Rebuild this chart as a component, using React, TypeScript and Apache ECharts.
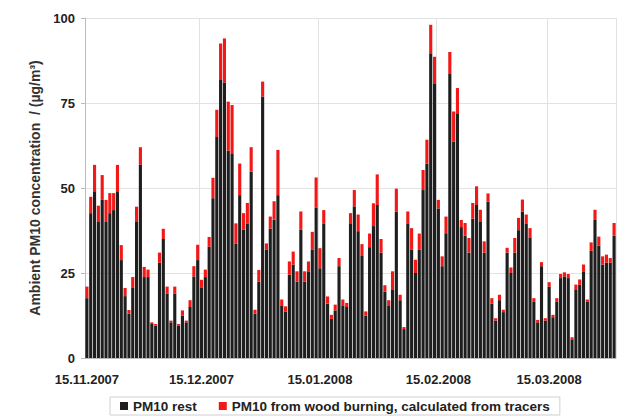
import React, { useEffect, useRef } from "react";
import * as echarts from "echarts";

const startDate = [2007, 11, 15]; // year, month, day of the first bar
const tickLabels = ["15.11.2007", "15.12.2007", "15.01.2008", "15.02.2008", "15.03.2008"];

const pm10Rest = [
  17.6, 42.6, 48.8, 40.0, 46.5, 40.0, 42.6, 43.5, 48.8, 28.8,
  18.2, 13.0, 20.6, 40.0, 56.8, 23.8, 23.8, 10.0, 9.5, 28.0,
  35.0, 19.0, 10.5, 19.0, 9.5, 12.5, 10.5, 15.0, 24.0, 28.8,
  20.6, 23.8, 32.7, 47.0, 65.0, 82.0, 81.0, 61.0, 60.0, 33.7,
  47.9, 37.7, 39.6, 54.8, 13.0, 22.5, 76.9, 31.8, 38.0, 40.7,
  47.9, 15.5, 13.7, 24.5, 27.5, 22.5, 37.7, 22.5, 25.5, 31.8,
  44.3, 26.4, 39.6, 16.0, 11.5, 14.0, 27.0, 15.5, 15.0, 39.6,
  44.6, 37.3, 30.0, 12.5, 32.6, 38.8, 45.0, 31.0, 19.5, 15.5,
  20.0, 43.0, 17.0, 8.5, 39.6, 31.8, 25.0, 31.8, 49.4, 57.2,
  89.6, 80.8, 44.0, 27.0, 36.7, 83.5, 63.7, 72.0, 38.5, 36.0,
  31.0, 41.0, 45.0, 40.0, 31.0, 46.0, 16.0, 11.0, 17.0, 13.5,
  31.0, 25.0, 31.0, 37.6, 43.0, 39.6, 35.5, 16.5, 10.5, 27.0,
  11.0, 21.0, 12.0, 16.5, 23.5, 24.0, 23.5, 5.5, 20.0, 21.5,
  25.5, 16.5, 31.5, 40.6, 33.0, 27.5, 28.0, 28.0, 36.0,
];

const pm10Wood = [
  3.4, 4.8, 8.0, 4.8, 7.3, 6.5, 5.9, 5.0, 8.0, 4.4,
  2.4, 1.1, 3.2, 4.5, 5.2, 3.0, 2.2, 0.5, 0.5, 3.0,
  3.0, 2.0, 0.5, 2.0, 0.5, 1.5, 0.5, 2.0, 3.0, 4.5,
  2.4, 2.2, 2.9, 6.0, 8.0, 10.5, 13.0, 14.4, 14.4, 5.9,
  9.3, 4.9, 6.0, 7.2, 1.2, 3.4, 4.4, 1.9, 3.6, 5.4,
  13.3, 1.7, 1.5, 3.9, 3.8, 3.0, 5.4, 3.0, 2.9, 5.3,
  8.8, 5.9, 3.9, 2.1, 1.2, 1.7, 2.4, 1.7, 1.2, 3.0,
  4.8, 4.9, 3.5, 1.2, 4.0, 6.7, 9.0, 4.0, 1.9, 1.5,
  5.5, 6.8, 1.6, 0.6, 3.5, 6.4, 3.9, 4.8, 5.9, 7.0,
  8.4, 7.8, 2.5, 2.9, 4.9, 6.5, 8.8, 7.4, 2.1, 3.7,
  4.3, 4.6, 5.5, 3.6, 3.3, 2.4, 1.6, 0.7, 1.6, 0.7,
  1.4, 1.6, 4.3, 3.6, 3.6, 2.6, 2.7, 1.1, 0.7, 1.2,
  0.7, 1.3, 0.7, 1.1, 1.2, 1.2, 1.2, 0.6, 1.6, 1.6,
  2.0, 0.7, 2.5, 3.0, 2.7, 2.4, 2.4, 1.4, 3.7,
];

const seriesNames = ["PM10 rest", "PM10 from wood burning, calculated from tracers"];
const seriesColors = ["#1e1e1e", "#f21818"];
const yTicks = { min: 0, max: 100, interval: 25 };
const yName = "Ambient PM10 concentration  / (µg/m³)";

function pad(n: number) {
  return n < 10 ? "0" + n : String(n);
}

function buildDates(count: number): string[] {
  const out: string[] = [];
  const d = new Date(startDate[0], startDate[1] - 1, startDate[2], 12);
  for (let i = 0; i < count; i++) {
    out.push(pad(d.getDate()) + "." + pad(d.getMonth() + 1) + "." + d.getFullYear());
    d.setDate(d.getDate() + 1);
  }
  return out;
}

const FONT = "'Liberation Sans', Arial, sans-serif";

export default function App() {
  const ref = useRef<HTMLDivElement>(null);

  useEffect(() => {
    document.body.style.margin = "0";
    if (!ref.current) return;
    const chart = echarts.init(ref.current, undefined, { renderer: "svg" });
    const dates = buildDates(pm10Rest.length);
    const showTick = (_i: number, v: string) => tickLabels.indexOf(v) >= 0;

    chart.setOption({
      animation: false,
      backgroundColor: "#ffffff",
      textStyle: { fontFamily: FONT },
      grid: { left: 85, right: 2, top: 18, bottom: 59, containLabel: false },
      legend: {
        data: seriesNames,
        left: 110,
        top: 397,
        icon: "rect",
        itemWidth: 8,
        itemHeight: 8,
        itemGap: 22,
        padding: [2, 10, 2, 10],
        borderColor: "#cfcfcf",
        borderWidth: 1,
        textStyle: { fontFamily: FONT, fontSize: 13.5, fontWeight: "bold", color: "#222" },
      },
      xAxis: {
        type: "category",
        data: dates,
        axisLine: { show: true, lineStyle: { color: "#bbbbbb" } },
        axisTick: { show: false },
        axisLabel: {
          interval: showTick,
          fontFamily: FONT,
          fontSize: 13,
          fontWeight: "bold",
          color: "#222",
          margin: 15,
        },
        splitLine: { show: true, interval: showTick, lineStyle: { color: "#e2e2e2", width: 1 } },
      },
      yAxis: {
        type: "value",
        min: yTicks.min,
        max: yTicks.max,
        interval: yTicks.interval,
        name: yName,
        nameLocation: "middle",
        nameGap: 41,
        nameTextStyle: { fontFamily: FONT, fontSize: 14, fontWeight: "bold", color: "#333" },
        axisLine: { show: true, lineStyle: { color: "#bbbbbb" } },
        axisTick: { show: true, length: 4, lineStyle: { color: "#bbbbbb" } },
        axisLabel: { fontFamily: FONT, fontSize: 13, fontWeight: "bold", color: "#222", margin: 10 },
        splitLine: { show: true, lineStyle: { color: "#e2e2e2", width: 1 } },
      },
      series: [
        {
          name: seriesNames[0],
          type: "bar",
          stack: "pm",
          data: pm10Rest,
          itemStyle: { color: seriesColors[0] },
          barCategoryGap: "18%",
        },
        {
          name: seriesNames[1],
          type: "bar",
          stack: "pm",
          data: pm10Wood,
          itemStyle: { color: seriesColors[1] },
          barCategoryGap: "18%",
        },
      ],
    });

    return () => chart.dispose();
  }, []);

  return <div ref={ref} style={{ width: 618, height: 417 }} />;
}
